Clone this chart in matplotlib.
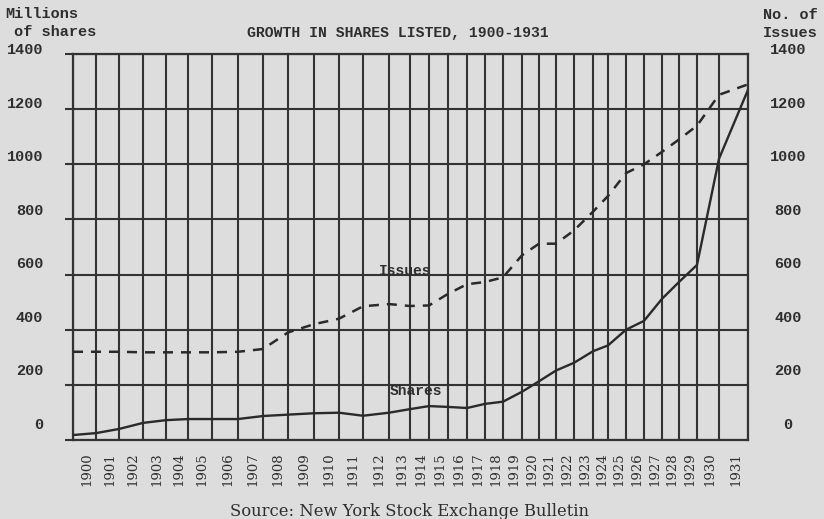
"""Growth in shares listed, 1900-1931 (NYSE Bulletin chart, typewriter style)."""

import matplotlib

matplotlib.use("Agg")
import matplotlib.pyplot as plt
import numpy as np
from matplotlib.transforms import ScaledTranslation

# values at each year boundary (start of 1900 ... end of 1931)
point_years = list(range(1900, 1933))
shares = [18, 25, 40, 62, 72, 76, 76, 76, 87, 92, 97, 99, 88, 99, 112, 123, 120,
          116, 131, 139, 175, 213, 252, 280, 322, 343, 400, 432, 512, 573, 635,
          1020, 1270]
issues = [320, 320, 320, 318, 318, 318, 318, 320, 330, 390, 420, 440, 485, 493,
          486, 488, 530, 565, 573, 590, 670, 712, 712, 760, 828, 885, 968, 1000,
          1045, 1090, 1140, 1252, 1290]
year_labels = [str(y) for y in range(1900, 1932)]
y_ticks = list(range(0, 1401, 200))

# the original grid was drawn by hand: column widths (px) differ per year
COLUMN_PX = [23, 23, 24, 23, 22, 24, 26, 25, 25, 26, 25, 24, 26, 21, 19, 19, 19,
             18, 18, 19, 17, 17, 18, 19, 15, 18, 18, 18, 17, 18, 22, 29]
EDGE_PX = np.concatenate([[0], np.cumsum(COLUMN_PX)]).astype(float)
EDGE_YEARS = np.arange(1900, 1933, dtype=float)

BG = "#dddddd"
INK = "#2e2e2e"
TYPE = "Liberation Mono"
PRINT = "DejaVu Serif"


def _fwd(x):
    return np.interp(x, EDGE_YEARS, EDGE_PX)


def _inv(p):
    return np.interp(p, EDGE_PX, EDGE_YEARS)


fig = plt.figure(figsize=(8.24, 5.19), dpi=100, facecolor=BG)
ax = fig.add_axes([73 / 824, 1 - 440 / 519, 675 / 824, 386 / 519])
ax.set_facecolor(BG)
ax.set_xscale("function", functions=(_fwd, _inv))
ax.set_xlim(1900, 1932)
ax.set_ylim(0, 1400)

# grid
ax.set_xticks(EDGE_YEARS)
ax.set_xticks([y + 0.6 for y in range(1900, 1932)], minor=True)
ax.set_xticklabels([])
ax.set_xticklabels(year_labels, minor=True, rotation=90, fontfamily=PRINT,
                   fontsize=9.5, color=INK)
ax.tick_params(axis="x", which="both", length=0)
ax.tick_params(axis="x", which="minor", pad=9)
ax.set_yticks(y_ticks)
ax.set_yticklabels([])
ax.tick_params(axis="y", length=6, width=1.5, color="#333333", direction="out")
ax.grid(True, which="major", color="#333333", lw=1.5)
for s in ax.spines.values():
    s.set_color("#333333")
    s.set_linewidth(1.6)

ax.plot(point_years, shares, color="#2a2a2a", lw=1.7, zorder=3)
ax.plot(point_years, issues, color="#2a2a2a", lw=1.8, dashes=(4, 3.2), zorder=3)

ax.text(1913.76, 613, "Issues", family=TYPE, fontsize=10.5, weight="bold",
        color=INK, ha="center", va="center", zorder=4)
ax.text(1914.3, 178, "Shares", family=TYPE, fontsize=10.5, weight="bold",
        color=INK, ha="center", va="center", zorder=4)

# axis numbers typed slightly above their lines (spacing a bit tighter than grid)
for v in y_ticks:
    lift_px = 15 - v / 1400 * 11
    lift = ax.get_yaxis_transform() + ScaledTranslation(0, lift_px / 100,
                                                        fig.dpi_scale_trans)
    ax.text(-0.044, v, str(v), transform=lift, family=TYPE, fontsize=11,
            weight="bold", color=INK, ha="right", va="center")
    ax.text(1.059, v, str(v), transform=lift, family=TYPE, fontsize=11,
            weight="bold", color=INK, ha="center", va="center")

fig.text(5 / 824, 1 - 7 / 519, "Millions\n of shares", family=TYPE, fontsize=11,
         weight="bold", color=INK, ha="left", va="top", linespacing=1.4)
fig.text(818 / 824, 1 - 8 / 519, "No. of\nIssues", family=TYPE, fontsize=11,
         weight="bold", color=INK, ha="right", va="top", linespacing=1.4)
fig.text(398 / 824, 1 - 33 / 519, "GROWTH IN SHARES LISTED, 1900-1931",
         family=TYPE, fontsize=10.6, weight="bold", color=INK,
         ha="center", va="center")
fig.text(410 / 824, 1 - 511 / 519, "Source: New York Stock Exchange Bulletin",
         family=PRINT, fontsize=11.8, color=INK, ha="center", va="center")

fig.savefig("out.png", dpi=100, facecolor=BG)
